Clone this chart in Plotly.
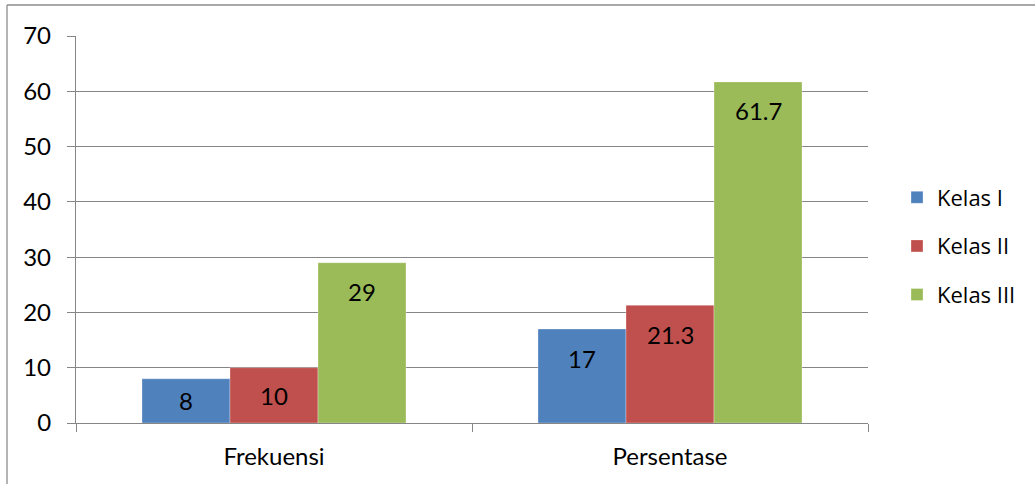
import plotly.graph_objects as go

categories = ["Frekuensi", "Persentase"]
series_names = ["Kelas I", "Kelas II", "Kelas III"]
kelas1 = [8, 17]
kelas2 = [10, 21.3]
kelas3 = [29, 61.7]
y_ticks = [0, 10, 20, 30, 40, 50, 60, 70]

colors = ["#4F81BD", "#C0504D", "#9BBB59"]
values = [kelas1, kelas2, kelas3]

W, H = 1035, 484
ML, MR, MT, MB = 76, 167, 36, 61
BARGAP = 1 / 3
YMAX = 70
FONT = "Lato"
LFONT = "Open Sans"

fig = go.Figure()
for i, (name, vals) in enumerate(zip(series_names, values)):
    fig.add_trace(go.Bar(
        x=categories, y=vals, name=name,
        marker=dict(color=colors[i], line=dict(width=0.6, color="rgba(255,255,255,0.5)")),
        legendgroup=name,
        hoverinfo="x+y+name",
    ))

plot_w = W - ML - MR
plot_h = H - MT - MB
cat_w = plot_w / len(categories)
bar_w = cat_w * (1 - BARGAP) / len(series_names)
annotations = []
for i, vals in enumerate(values):
    xs = (i - (len(series_names) - 1) / 2) * bar_w
    for c, v in zip(categories, vals):
        half_px = v / YMAX * plot_h / 2
        ys = -min(29, half_px)
        annotations.append(dict(
            x=c, y=v, xref="x", yref="y", text=str(v), showarrow=False,
            xshift=xs, yshift=ys, yanchor="middle",
            font=dict(family=FONT, size=24, color="#000000"),
        ))

# chart-area border (top and left visible)
x_left = (7 - ML) / plot_w
y_top = (H - MB - 5) / plot_h
shapes = [
    dict(type="line", xref="paper", yref="paper", x0=x_left, x1=1.5, y0=y_top, y1=y_top,
         line=dict(color="#8C8C8C", width=1.3)),
    dict(type="line", xref="paper", yref="paper", x0=x_left, x1=x_left, y0=y_top, y1=-0.5,
         line=dict(color="#8C8C8C", width=1.3)),
]

fig.update_layout(
    width=W, height=H,
    margin=dict(l=ML, r=MR, t=MT, b=MB, pad=0, autoexpand=False),
    paper_bgcolor="white", plot_bgcolor="white",
    barmode="group", bargap=BARGAP, bargroupgap=0,
    font=dict(family=FONT, size=24, color="#000000"),
    showlegend=True,
    legend=dict(
        x=(897 - ML) / plot_w, y=(H - MB - 246) / plot_h, xanchor="left", yanchor="middle",
        font=dict(family=LFONT, size=22, color="#000000"),
        traceorder="grouped", tracegroupgap=17,
        bgcolor="rgba(0,0,0,0)",
    ),
    annotations=annotations,
    shapes=shapes,
    xaxis=dict(
        type="category", showgrid=False, showline=True, linecolor="#868686", linewidth=1.3,
        ticks="outside", tickson="boundaries", ticklen=8, tickcolor="#868686", tickwidth=1.3,
        tickfont=dict(family=FONT, size=24, color="#000000"),
        ticklabelstandoff=12,
    ),
    yaxis=dict(
        range=[0, YMAX], tickvals=y_ticks, showgrid=True, gridcolor="#868686", gridwidth=1.3,
        showline=True, linecolor="#868686", linewidth=1.3, zeroline=False,
        ticks="outside", ticklen=8, tickcolor="#868686", tickwidth=1.3,
        tickfont=dict(family=FONT, size=24, color="#000000"),
        ticklabelstandoff=11,
    ),
)

fig.write_html(
    "out.html",
    config={"displayModeBar": False},
    post_script="document.body.style.margin='0';document.body.style.overflow='hidden';",
)
